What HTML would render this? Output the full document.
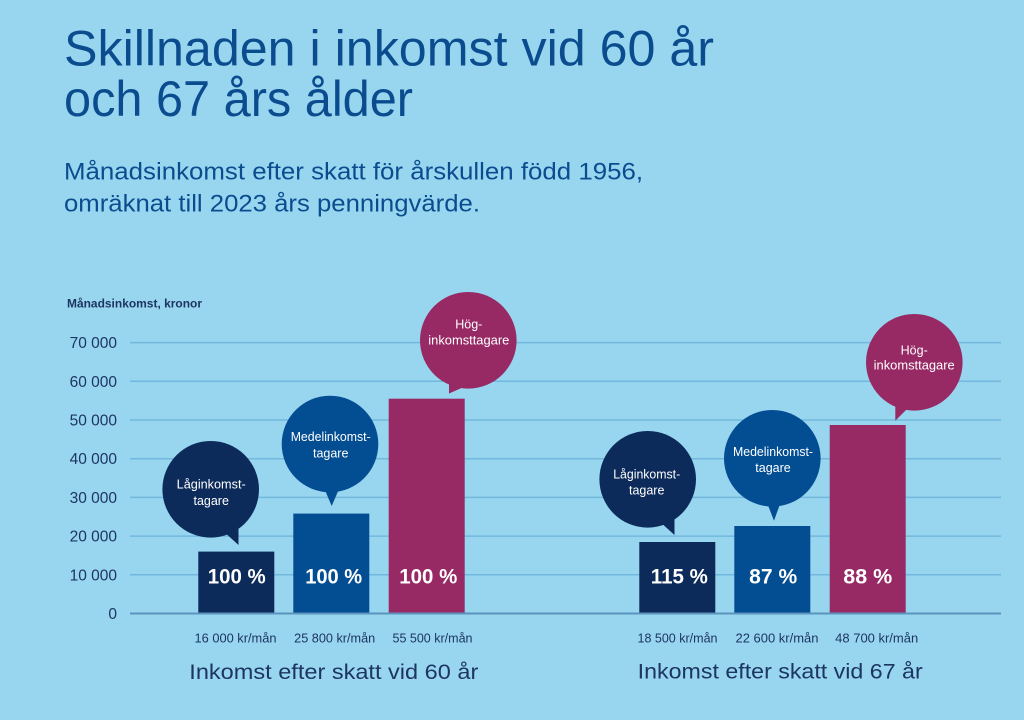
<!DOCTYPE html>
<html>
<head>
<meta charset="utf-8">
<style>
html,body{margin:0;padding:0;background:#98d6f0;}
svg{display:block;}
text{font-family:"Liberation Sans",sans-serif;}
</style>
</head>
<body>
<svg width="1024" height="720" viewBox="0 0 1024 720" xmlns="http://www.w3.org/2000/svg">
<rect x="0" y="0" width="1024" height="720" fill="#98d6f0"/>

<!-- Title -->
<text x="64" y="65.5" font-size="50" fill="#0b4c8f" textLength="650" lengthAdjust="spacingAndGlyphs">Skillnaden i inkomst vid 60 år</text>
<text x="64" y="116" font-size="50" fill="#0b4c8f" textLength="349" lengthAdjust="spacingAndGlyphs">och 67 års ålder</text>

<!-- Subtitle -->
<text x="64" y="179.5" font-size="24" fill="#0b4c8f" textLength="579" lengthAdjust="spacingAndGlyphs">Månadsinkomst efter skatt för årskullen född 1956,</text>
<text x="64" y="211.5" font-size="24" fill="#0b4c8f" textLength="416" lengthAdjust="spacingAndGlyphs">omräknat till 2023 års penningvärde.</text>

<!-- Axis title -->
<text x="67" y="307.5" font-size="12" font-weight="bold" fill="#1d3561" textLength="135" lengthAdjust="spacingAndGlyphs">Månadsinkomst, kronor</text>

<!-- Gridlines -->
<g stroke="#72b8dc" stroke-width="1.5">
<line x1="130" y1="342.6" x2="1001" y2="342.6"/>
<line x1="130" y1="381.3" x2="1001" y2="381.3"/>
<line x1="130" y1="420" x2="1001" y2="420"/>
<line x1="130" y1="458.7" x2="1001" y2="458.7"/>
<line x1="130" y1="497.4" x2="1001" y2="497.4"/>
<line x1="130" y1="536.1" x2="1001" y2="536.1"/>
<line x1="130" y1="574.8" x2="1001" y2="574.8"/>
</g>

<!-- Y tick labels -->
<g font-size="15.5" fill="#1d3561" text-anchor="end">
<text x="117" y="348">70 000</text>
<text x="117" y="386.8">60 000</text>
<text x="117" y="425.5">50 000</text>
<text x="117" y="464.2">40 000</text>
<text x="117" y="502.9">30 000</text>
<text x="117" y="541.6">20 000</text>
<text x="117" y="580.3">10 000</text>
<text x="117" y="619">0</text>
</g>

<!-- Bars left group -->
<rect x="198.3" y="551.6" width="76" height="62" fill="#0c2a5a"/>
<rect x="293.3" y="513.6" width="76" height="100" fill="#034d92"/>
<rect x="388.7" y="398.7" width="76" height="215" fill="#972964"/>

<!-- Bars right group -->
<rect x="639.3" y="542" width="76" height="71.5" fill="#0c2a5a"/>
<rect x="734.3" y="526" width="76" height="87.5" fill="#034d92"/>
<rect x="829.7" y="425" width="76" height="188.5" fill="#972964"/>

<!-- Baseline -->
<line x1="130" y1="613.5" x2="1001" y2="613.5" stroke="#5b93bb" stroke-width="2"/>

<!-- Percent labels -->
<g font-size="21" font-weight="bold" fill="#ffffff" text-anchor="middle">
<text x="236.7" y="583.3" textLength="58" lengthAdjust="spacingAndGlyphs">100 %</text>
<text x="333.7" y="583.3" textLength="57" lengthAdjust="spacingAndGlyphs">100 %</text>
<text x="428.3" y="583.3" textLength="58" lengthAdjust="spacingAndGlyphs">100 %</text>
<text x="679.3" y="583.3" textLength="57" lengthAdjust="spacingAndGlyphs">115 %</text>
<text x="773.2" y="583.3" textLength="48" lengthAdjust="spacingAndGlyphs">87 %</text>
<text x="867.8" y="583.3" textLength="49" lengthAdjust="spacingAndGlyphs">88 %</text>
</g>

<!-- Bubbles left -->
<circle cx="210.7" cy="489.3" r="48.3" fill="#0c2a5a"/>
<polygon points="222,530 238.5,545 238.5,522" fill="#0c2a5a"/>
<circle cx="330" cy="444" r="48.3" fill="#034d92"/>
<polygon points="324.5,489 339,489 331.7,506" fill="#034d92"/>
<circle cx="468.3" cy="340.3" r="48.3" fill="#972964"/>
<polygon points="449,374 449,393.5 473,383" fill="#972964"/>

<!-- Bubbles right -->
<circle cx="647.7" cy="479.3" r="48.3" fill="#0c2a5a"/>
<polygon points="659,521 674.5,535 674.5,512" fill="#0c2a5a"/>
<circle cx="772.3" cy="458.3" r="48.3" fill="#034d92"/>
<polygon points="767.5,504 780,504 774,520.7" fill="#034d92"/>
<circle cx="914.3" cy="362.3" r="48.3" fill="#972964"/>
<polygon points="895.3,398 895.3,420.7 910,406" fill="#972964"/>

<!-- Bubble texts -->
<g font-size="12.5" fill="#ffffff" text-anchor="middle">
<text x="211.2" y="488.5" textLength="69" lengthAdjust="spacingAndGlyphs">Låginkomst-</text>
<text x="211.2" y="505">tagare</text>
<text x="330.7" y="441" textLength="80" lengthAdjust="spacingAndGlyphs">Medelinkomst-</text>
<text x="330.7" y="457.3">tagare</text>
<text x="468.8" y="328.5">Hög-</text>
<text x="468.8" y="344.5" textLength="81" lengthAdjust="spacingAndGlyphs">inkomsttagare</text>

<text x="646.7" y="478.5" textLength="67" lengthAdjust="spacingAndGlyphs">Låginkomst-</text>
<text x="646.7" y="494.5">tagare</text>
<text x="773" y="456" textLength="80" lengthAdjust="spacingAndGlyphs">Medelinkomst-</text>
<text x="773" y="472">tagare</text>
<text x="914.2" y="354.5">Hög-</text>
<text x="914.2" y="369.5" textLength="81" lengthAdjust="spacingAndGlyphs">inkomsttagare</text>
</g>

<!-- kr/mån labels -->
<g font-size="12.5" fill="#1d3561" text-anchor="middle">
<text x="235.5" y="642.7" textLength="82" lengthAdjust="spacingAndGlyphs">16 000 kr/mån</text>
<text x="334.7" y="642.7" textLength="81" lengthAdjust="spacingAndGlyphs">25 800 kr/mån</text>
<text x="432.5" y="642.7" textLength="80" lengthAdjust="spacingAndGlyphs">55 500 kr/mån</text>
<text x="677.5" y="642.7" textLength="80" lengthAdjust="spacingAndGlyphs">18 500 kr/mån</text>
<text x="777" y="642.7" textLength="83" lengthAdjust="spacingAndGlyphs">22 600 kr/mån</text>
<text x="876.7" y="642.7" textLength="83" lengthAdjust="spacingAndGlyphs">48 700 kr/mån</text>
</g>

<!-- Group labels -->
<g font-size="21.5" fill="#1d3561" text-anchor="middle">
<text x="333.8" y="679" textLength="289" lengthAdjust="spacingAndGlyphs">Inkomst efter skatt vid 60 år</text>
<text x="780.2" y="678.5" textLength="285" lengthAdjust="spacingAndGlyphs">Inkomst efter skatt vid 67 år</text>
</g>
</svg>
</body>
</html>
